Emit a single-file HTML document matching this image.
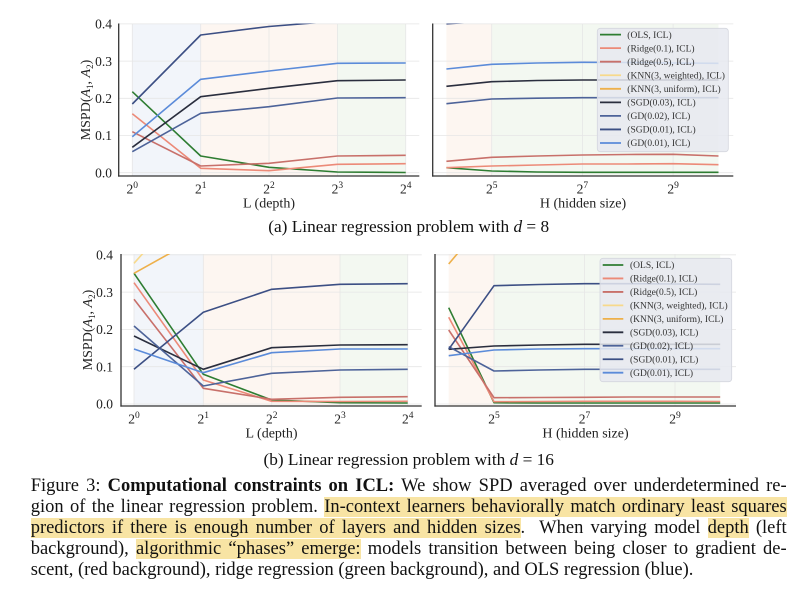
<!DOCTYPE html>
<html><head><meta charset="utf-8">
<style>
html,body{margin:0;padding:0;background:#fff}
body{width:800px;height:597px;position:relative;overflow:hidden;font-family:"Liberation Serif",serif}
svg{position:absolute;left:0;top:0}
.cap{position:absolute;left:30.7px;top:475.5px;width:756px;font-size:18.5px;line-height:21px;color:#111}
.cap div{height:21px;text-align:justify;text-align-last:justify;white-space:normal}
.cap div.last{text-align:left;text-align-last:left}
.hl{background:#f8e4a4}
</style></head><body>
<svg width="800" height="597" viewBox="0 0 800 597" font-family="Liberation Serif, serif">
<defs>
<clipPath id="cTL"><rect x="118.7" y="23.5" width="300.6" height="152.5"/></clipPath>
<clipPath id="cTR"><rect x="432.7" y="23.5" width="300.6" height="152.5"/></clipPath>
<clipPath id="cBL"><rect x="121" y="254" width="300.7" height="152"/></clipPath>
<clipPath id="cBR"><rect x="435" y="254" width="301" height="152"/></clipPath>
</defs>

<!-- ===== TOP LEFT ===== -->
<g>
<rect x="132.3" y="23.5" width="68.4" height="152.5" fill="#f2f5fa"/>
<rect x="200.7" y="23.5" width="136.7" height="152.5" fill="#fdf6f1"/>
<rect x="337.4" y="23.5" width="68.3" height="152.5" fill="#f3f8f1"/>
<g stroke="#e6e6e6" stroke-width="0.8">
<line x1="118.7" x2="419.3" y1="23.9" y2="23.9"/><line x1="118.7" x2="419.3" y1="61.1" y2="61.1"/><line x1="118.7" x2="419.3" y1="98.3" y2="98.3"/><line x1="118.7" x2="419.3" y1="135.5" y2="135.5"/><line x1="118.7" x2="419.3" y1="172.7" y2="172.7"/>
<line x1="132.3" x2="132.3" y1="23.5" y2="176"/><line x1="200.7" x2="200.7" y1="23.5" y2="176"/><line x1="269" x2="269" y1="23.5" y2="176"/><line x1="337.4" x2="337.4" y1="23.5" y2="176"/><line x1="405.7" x2="405.7" y1="23.5" y2="176"/>
</g>
<g clip-path="url(#cTL)" fill="none" stroke-width="1.6" stroke-linejoin="round">
<polyline stroke="#2e7d32" points="132.3,91.7 200.7,156 269,167.3 337.4,172 405.7,172.5"/>
<polyline stroke="#ec8a78" points="132.3,113.7 200.7,168.3 269,170.7 337.4,164.3 405.7,163.7"/>
<polyline stroke="#c8706a" points="132.3,131.7 200.7,166 269,163.3 337.4,156 405.7,155.3"/>
<polyline stroke="#2a2e3e" points="132.3,147.3 200.7,96.7 269,88.3 337.4,80.7 405.7,80"/>
<polyline stroke="#4d6399" points="132.3,151.7 200.7,113.3 269,106.7 337.4,98 405.7,97.7"/>
<polyline stroke="#3c4f84" points="132.3,104 200.7,35 269,26.5 337.4,21 405.7,19"/>
<polyline stroke="#5b8bd9" points="132.3,136.7 200.7,79.3 269,71 337.4,63.3 405.7,63"/>
</g>
<g stroke="#333" stroke-width="1.3"><line x1="118.7" x2="118.7" y1="23.5" y2="176.6"/><line x1="118.1" x2="419.3" y1="176" y2="176"/></g>
<g font-size="13.5" fill="#222" text-anchor="end">
<text x="112" y="28.6">0.4</text><text x="112" y="65.8">0.3</text><text x="112" y="103">0.2</text><text x="112" y="140.2">0.1</text><text x="112" y="177.4">0.0</text>
</g>
<g font-size="13.5" fill="#222" text-anchor="middle">
<text x="132.3" y="193.5">2<tspan font-size="9.5" dy="-5.5">0</tspan></text>
<text x="200.7" y="193.5">2<tspan font-size="9.5" dy="-5.5">1</tspan></text>
<text x="269" y="193.5">2<tspan font-size="9.5" dy="-5.5">2</tspan></text>
<text x="337.4" y="193.5">2<tspan font-size="9.5" dy="-5.5">3</tspan></text>
<text x="405.7" y="193.5">2<tspan font-size="9.5" dy="-5.5">4</tspan></text>
<text x="269" y="207.5" font-size="14">L (depth)</text>
</g>
<text transform="translate(90,100) rotate(-90)" text-anchor="middle" font-size="14" fill="#222">MSPD(<tspan font-style="italic">A</tspan><tspan font-size="9" dy="3">1</tspan><tspan dy="-3">, </tspan><tspan font-style="italic">A</tspan><tspan font-size="9" dy="3">2</tspan><tspan dy="-3">)</tspan></text>
</g>

<!-- ===== TOP RIGHT ===== -->
<g>
<rect x="446.4" y="23.5" width="45.3" height="152.5" fill="#fdf6f1"/>
<rect x="491.7" y="23.5" width="226.8" height="152.5" fill="#f3f8f1"/>
<g stroke="#e6e6e6" stroke-width="0.8">
<line x1="432.7" x2="733.3" y1="23.9" y2="23.9"/><line x1="432.7" x2="733.3" y1="61.1" y2="61.1"/><line x1="432.7" x2="733.3" y1="98.3" y2="98.3"/><line x1="432.7" x2="733.3" y1="135.5" y2="135.5"/><line x1="432.7" x2="733.3" y1="172.7" y2="172.7"/>
<line x1="491.7" x2="491.7" y1="23.5" y2="176"/><line x1="582.4" x2="582.4" y1="23.5" y2="176"/><line x1="673.1" x2="673.1" y1="23.5" y2="176"/>
</g>
<g clip-path="url(#cTR)" fill="none" stroke-width="1.6" stroke-linejoin="round">
<polyline stroke="#2e7d32" points="446.4,167.7 491.7,171 537.1,172 582.4,172.3 627.8,172.3 673.1,172.3 718.5,172.3"/>
<polyline stroke="#ec8a78" points="446.4,167.7 491.7,166 537.1,165 582.4,164 627.8,164 673.1,163.7 718.5,164.7"/>
<polyline stroke="#c8706a" points="446.4,161.3 491.7,157.3 537.1,156 582.4,155 627.8,154.5 673.1,154.3 718.5,156"/>
<polyline stroke="#2a2e3e" points="446.4,86.3 491.7,81.7 537.1,80.5 582.4,80 627.8,80 673.1,80 718.5,80"/>
<polyline stroke="#4d6399" points="446.4,103.7 491.7,99 537.1,98.2 582.4,97.7 627.8,97.7 673.1,97.7 718.5,97.7"/>
<polyline stroke="#3c4f84" points="446.4,23.8 491.7,21 537.1,20 582.4,19.5 627.8,19.5 673.1,19.5 718.5,19.5"/>
<polyline stroke="#5b8bd9" points="446.4,69 491.7,64.3 537.1,63 582.4,62.3 627.8,62.5 673.1,63 718.5,63.3"/>
</g>
<g stroke="#333" stroke-width="1.3"><line x1="432.7" x2="432.7" y1="23.5" y2="176.6"/><line x1="432.1" x2="733.3" y1="176" y2="176"/></g>
<g font-size="13.5" fill="#222" text-anchor="middle">
<text x="491.7" y="193.5">2<tspan font-size="9.5" dy="-5.5">5</tspan></text>
<text x="582.4" y="193.5">2<tspan font-size="9.5" dy="-5.5">7</tspan></text>
<text x="673.1" y="193.5">2<tspan font-size="9.5" dy="-5.5">9</tspan></text>
<text x="583" y="207.5" font-size="14">H (hidden size)</text>
</g>
<!-- legend -->
<rect x="597.3" y="28.3" width="131" height="123.4" rx="3" fill="#e6e9f0" fill-opacity="0.85" stroke="#d4d6de" stroke-width="0.8"/>
<g stroke-width="1.8">
<line x1="600" x2="621" y1="34.6" y2="34.6" stroke="#2e7d32"/>
<line x1="600" x2="621" y1="48.15" y2="48.15" stroke="#ec8a78"/>
<line x1="600" x2="621" y1="61.7" y2="61.7" stroke="#c8706a"/>
<line x1="600" x2="621" y1="75.25" y2="75.25" stroke="#f7d98b"/>
<line x1="600" x2="621" y1="88.8" y2="88.8" stroke="#eeb04a"/>
<line x1="600" x2="621" y1="102.35" y2="102.35" stroke="#2a2e3e"/>
<line x1="600" x2="621" y1="115.9" y2="115.9" stroke="#4d6399"/>
<line x1="600" x2="621" y1="129.45" y2="129.45" stroke="#3c4f84"/>
<line x1="600" x2="621" y1="143" y2="143" stroke="#5b8bd9"/>
</g>
<g font-size="9.5" fill="#333">
<text x="627.3" y="37.8">(OLS, ICL)</text>
<text x="627.3" y="51.35">(Ridge(0.1), ICL)</text>
<text x="627.3" y="64.9">(Ridge(0.5), ICL)</text>
<text x="627.3" y="78.45">(KNN(3, weighted), ICL)</text>
<text x="627.3" y="92">(KNN(3, uniform), ICL)</text>
<text x="627.3" y="105.55">(SGD(0.03), ICL)</text>
<text x="627.3" y="119.1">(GD(0.02), ICL)</text>
<text x="627.3" y="132.65">(SGD(0.01), ICL)</text>
<text x="627.3" y="146.2">(GD(0.01), ICL)</text>
</g>
</g>

<text x="408.7" y="232" text-anchor="middle" font-size="17.3" fill="#111">(a) Linear regression problem with <tspan font-style="italic">d</tspan> = 8</text>

<!-- ===== BOTTOM LEFT ===== -->
<g>
<rect x="134" y="254" width="69.3" height="152" fill="#f2f5fa"/>
<rect x="203.3" y="254" width="136.7" height="152" fill="#fdf6f1"/>
<rect x="340" y="254" width="67.7" height="152" fill="#f3f8f1"/>
<g stroke="#e6e6e6" stroke-width="0.8">
<line x1="121" x2="421.7" y1="254.8" y2="254.8"/><line x1="121" x2="421.7" y1="292.1" y2="292.1"/><line x1="121" x2="421.7" y1="329.4" y2="329.4"/><line x1="121" x2="421.7" y1="366.7" y2="366.7"/><line x1="121" x2="421.7" y1="404" y2="404"/>
<line x1="134" x2="134" y1="254" y2="406"/><line x1="203.3" x2="203.3" y1="254" y2="406"/><line x1="271.7" x2="271.7" y1="254" y2="406"/><line x1="340" x2="340" y1="254" y2="406"/><line x1="407.7" x2="407.7" y1="254" y2="406"/>
</g>
<g clip-path="url(#cBL)" fill="none" stroke-width="1.6" stroke-linejoin="round">
<polyline stroke="#2e7d32" points="134,273.3 203.3,374.3 271.7,400 340,402.7 407.7,403"/>
<polyline stroke="#ec8a78" points="134,282.7 203.3,380 271.7,401.3 340,401.5 407.7,401.3"/>
<polyline stroke="#c8706a" points="134,299.3 203.3,388.3 271.7,399.3 340,397.3 407.7,396.7"/>
<polyline stroke="#f7d98b" points="134,263.3 203.3,186 271.7,150 340,140 407.7,135"/>
<polyline stroke="#eeb04a" points="134,273.3 203.3,234.7 271.7,200 340,190 407.7,185"/>
<polyline stroke="#2a2e3e" points="134,336 203.3,369.3 271.7,347.7 340,345 407.7,344.7"/>
<polyline stroke="#4d6399" points="134,326 203.3,386 271.7,373.3 340,370 407.7,369.3"/>
<polyline stroke="#3c4f84" points="134,369.3 203.3,312.3 271.7,289.3 340,284.3 407.7,283.7"/>
<polyline stroke="#5b8bd9" points="134,349 203.3,372.7 271.7,352.7 340,349 407.7,349"/>
</g>
<g stroke="#333" stroke-width="1.3"><line x1="121" x2="121" y1="254" y2="406.6"/><line x1="120.4" x2="421.7" y1="406" y2="406"/></g>
<g font-size="13.5" fill="#222" text-anchor="end">
<text x="113" y="259.5">0.4</text><text x="113" y="296.8">0.3</text><text x="113" y="334.1">0.2</text><text x="113" y="371.4">0.1</text><text x="113" y="408.7">0.0</text>
</g>
<g font-size="13.5" fill="#222" text-anchor="middle">
<text x="134" y="423.5">2<tspan font-size="9.5" dy="-5.5">0</tspan></text>
<text x="203.3" y="423.5">2<tspan font-size="9.5" dy="-5.5">1</tspan></text>
<text x="271.7" y="423.5">2<tspan font-size="9.5" dy="-5.5">2</tspan></text>
<text x="340" y="423.5">2<tspan font-size="9.5" dy="-5.5">3</tspan></text>
<text x="407.7" y="423.5">2<tspan font-size="9.5" dy="-5.5">4</tspan></text>
<text x="271.5" y="437.5" font-size="14">L (depth)</text>
</g>
<text transform="translate(92,330) rotate(-90)" text-anchor="middle" font-size="14" fill="#222">MSPD(<tspan font-style="italic">A</tspan><tspan font-size="9" dy="3">1</tspan><tspan dy="-3">, </tspan><tspan font-style="italic">A</tspan><tspan font-size="9" dy="3">2</tspan><tspan dy="-3">)</tspan></text>
</g>

<!-- ===== BOTTOM RIGHT ===== -->
<g>
<rect x="448.7" y="254" width="45.3" height="152" fill="#fdf6f1"/>
<rect x="494" y="254" width="226.2" height="152" fill="#f3f8f1"/>
<g stroke="#e6e6e6" stroke-width="0.8">
<line x1="435" x2="736" y1="254.8" y2="254.8"/><line x1="435" x2="736" y1="292.1" y2="292.1"/><line x1="435" x2="736" y1="329.4" y2="329.4"/><line x1="435" x2="736" y1="366.7" y2="366.7"/><line x1="435" x2="736" y1="404" y2="404"/>
<line x1="494" x2="494" y1="254" y2="406"/><line x1="584.5" x2="584.5" y1="254" y2="406"/><line x1="675" x2="675" y1="254" y2="406"/>
</g>
<g clip-path="url(#cBR)" fill="none" stroke-width="1.6" stroke-linejoin="round">
<polyline stroke="#2e7d32" points="448.7,307.7 494,402.7 539.2,403 584.5,403 629.7,403 675,403 720.2,403"/>
<polyline stroke="#ec8a78" points="448.7,317.3 494,401.7 539.2,401.5 584.5,401.3 629.7,401.3 675,401.3 720.2,401.5"/>
<polyline stroke="#c8706a" points="448.7,330 494,397.7 539.2,397.5 584.5,397.3 629.7,397 675,397 720.2,397"/>
<polyline stroke="#f7d98b" points="448.7,240 494,160 539.2,150"/>
<polyline stroke="#eeb04a" points="448.7,264 494,210 539.2,200 584.5,195"/>
<polyline stroke="#2a2e3e" points="448.7,349.3 494,346 539.2,345 584.5,344.3 629.7,344.3 675,344.3 720.2,344.3"/>
<polyline stroke="#4d6399" points="448.7,346.7 494,371 539.2,370 584.5,369.3 629.7,369.3 675,369.3 720.2,369.3"/>
<polyline stroke="#3c4f84" points="448.7,349.3 494,285.7 539.2,284.5 584.5,283.7 629.7,283.7 675,284 720.2,284.3"/>
<polyline stroke="#5b8bd9" points="448.7,355.7 494,350 539.2,349 584.5,348.7 629.7,348.7 675,348.7 720.2,348.7"/>
</g>
<g stroke="#333" stroke-width="1.3"><line x1="435" x2="435" y1="254" y2="406.6"/><line x1="434.4" x2="736" y1="406" y2="406"/></g>
<g font-size="13.5" fill="#222" text-anchor="middle">
<text x="494" y="423.5">2<tspan font-size="9.5" dy="-5.5">5</tspan></text>
<text x="584.5" y="423.5">2<tspan font-size="9.5" dy="-5.5">7</tspan></text>
<text x="675" y="423.5">2<tspan font-size="9.5" dy="-5.5">9</tspan></text>
<text x="585.5" y="437.5" font-size="14">H (hidden size)</text>
</g>
<rect x="600" y="258.3" width="131.7" height="123.4" rx="3" fill="#e6e9f0" fill-opacity="0.85" stroke="#d4d6de" stroke-width="0.8"/>
<g stroke-width="1.8">
<line x1="602.7" x2="623.3" y1="265" y2="265" stroke="#2e7d32"/>
<line x1="602.7" x2="623.3" y1="278.46" y2="278.46" stroke="#ec8a78"/>
<line x1="602.7" x2="623.3" y1="291.92" y2="291.92" stroke="#c8706a"/>
<line x1="602.7" x2="623.3" y1="305.38" y2="305.38" stroke="#f7d98b"/>
<line x1="602.7" x2="623.3" y1="318.84" y2="318.84" stroke="#eeb04a"/>
<line x1="602.7" x2="623.3" y1="332.3" y2="332.3" stroke="#2a2e3e"/>
<line x1="602.7" x2="623.3" y1="345.76" y2="345.76" stroke="#4d6399"/>
<line x1="602.7" x2="623.3" y1="359.22" y2="359.22" stroke="#3c4f84"/>
<line x1="602.7" x2="623.3" y1="372.68" y2="372.68" stroke="#5b8bd9"/>
</g>
<g font-size="9.5" fill="#333">
<text x="630" y="268.2">(OLS, ICL)</text>
<text x="630" y="281.66">(Ridge(0.1), ICL)</text>
<text x="630" y="295.12">(Ridge(0.5), ICL)</text>
<text x="630" y="308.58">(KNN(3, weighted), ICL)</text>
<text x="630" y="322.04">(KNN(3, uniform), ICL)</text>
<text x="630" y="335.5">(SGD(0.03), ICL)</text>
<text x="630" y="348.96">(GD(0.02), ICL)</text>
<text x="630" y="362.42">(SGD(0.01), ICL)</text>
<text x="630" y="375.88">(GD(0.01), ICL)</text>
</g>
</g>

<text x="408.7" y="465" text-anchor="middle" font-size="17.3" fill="#111">(b) Linear regression problem with <tspan font-style="italic">d</tspan> = 16</text>
</svg>

<div class="cap">
<div>Figure 3: <b>Computational constraints on ICL:</b> We show SPD averaged over underdetermined re-</div>
<div>gion of the linear regression problem. <span class="hl">In-context learners behaviorally match ordinary least squares</span></div>
<div><span class="hl">predictors if there is enough number of layers and hidden sizes</span>.&nbsp; When varying model <span class="hl">depth</span> (left</div>
<div>background), <span class="hl">algorithmic “phases” emerge:</span> models transition between being closer to gradient de-</div>
<div class="last">scent, (red background), ridge regression (green background), and OLS regression (blue).</div>
</div>
</body></html>
